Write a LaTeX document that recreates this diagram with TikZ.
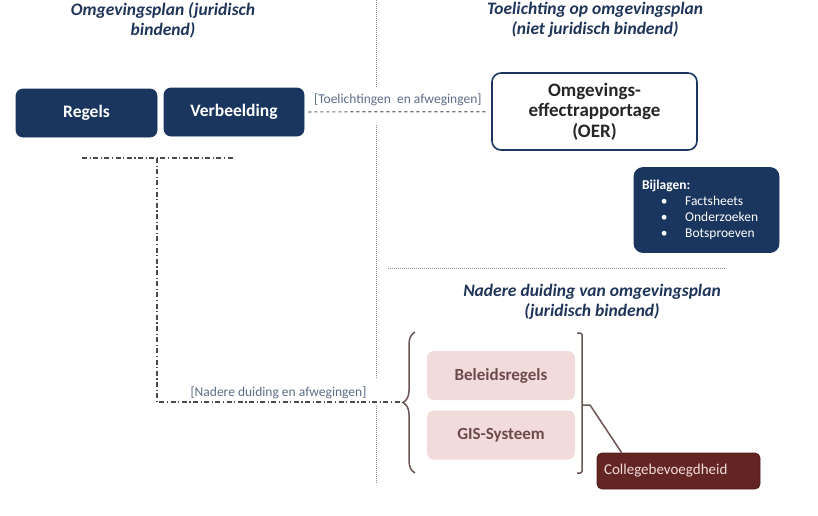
\documentclass[tikz,border=0pt]{standalone}
\usepackage{fontspec}
\setmainfont{Carlito}
\usetikzlibrary{positioning, decorations.pathreplacing}
\definecolor{navy}{HTML}{1A365E}
\definecolor{titleblue}{HTML}{1F3459}
\definecolor{labelgrey}{HTML}{5C6C88}
\definecolor{linegrey}{HTML}{8A8A8A}
\definecolor{dashgrey}{HTML}{4A4A4A}
\definecolor{rosefill}{HTML}{F2DCDB}
\definecolor{rosetext}{HTML}{6E4A4C}
\definecolor{bracegrey}{HTML}{6B5555}
\definecolor{darkmaroon}{HTML}{632523}
\definecolor{palerose}{HTML}{F2DCDB}

\begin{document}
\begin{tikzpicture}[x=1pt, y=-1pt, thick, >=latex,
    title/.style={text=titleblue, align=center, font=\bfseries\itshape\fontsize{17.5}{20}\selectfont},
    navybox/.style={draw=navy, fill=navy, rounded corners=7pt, text=white, minimum height=48pt, font=\bfseries\fontsize{17.5}{20}\selectfont},
    rosebox/.style={fill=rosefill, rounded corners=7pt, text=rosetext, minimum width=148pt, minimum height=49pt, font=\bfseries\fontsize{17}{20}\selectfont},
    linklabel/.style={text=labelgrey, font=\fontsize{13.5}{15}\selectfont, inner sep=2pt},
    divider/.style={draw=linegrey, densely dotted, line width=1pt},
    dashdot/.style={draw=dashgrey, dash pattern=on 5pt off 2.5pt on 1.2pt off 2.5pt, line width=1.4pt}]
    \useasboundingbox (0,0) rectangle (818,515);

    % column titles
    \node (TitlePlan) [title] at (163,20) {Omgevingsplan (juridisch\\bindend)};
    \node (TitleToelichting) [title] at (595,20) {Toelichting op omgevingsplan\\(niet juridisch bindend)};
    \node (TitleDuiding) [title] at (592,302) {Nadere duiding van omgevingsplan\\(juridisch bindend)};

    % dividers
    \draw[divider] (376,0) -- (376,88);
    \draw[divider] (376,125) -- (376,378);
    \draw[divider] (376,406) -- (376,484);
    \draw[divider] (388,268) -- (726,268);

    % plan blocks
    \node (Regels) [navybox, minimum width=141pt] at (86.5,113) {Regels};
    \node (Verbeelding) [navybox, minimum width=140pt] at (234,112) {Verbeelding};

    % toelichting blocks
    \node (OER) [draw=navy, line width=1.6pt, fill=white, rounded corners=9pt, minimum width=205pt, minimum height=77pt, align=center, text=black!85, font=\bfseries\fontsize{19}{20.5}\selectfont] at (594.5,111.5) {Omgevings-\\effectrapportage\\(OER)};
    \node (Bijlagen) [draw=navy, fill=navy, rounded corners=9pt, minimum width=145pt, minimum height=85pt, text width=129pt, align=left, text=white, font=\fontsize{13.5}{16}\selectfont] at (706.5,210)
        {\textbf{Bijlagen:}\\\hspace*{1.4em}\textbullet\hspace{1.3em}Factsheets\\\hspace*{1.4em}\textbullet\hspace{1.3em}Onderzoeken\\\hspace*{1.4em}\textbullet\hspace{1.3em}Botsproeven};

    % nadere duiding blocks
    \node (Beleidsregels) [rosebox] at (501,375.5) {Beleidsregels};
    \node (GIS) [rosebox] at (501,435) {GIS-Systeem};
    \node (College) [draw=darkmaroon!80!black, fill=darkmaroon, rounded corners=5pt, minimum width=163pt, minimum height=36pt, text width=149pt, align=left, text=palerose, font=\fontsize{15}{17}\selectfont] at (678.5,471) {Collegebevoegdheid};

    % braces
    \draw[bracegrey, line width=1.5pt, decorate, decoration={brace, amplitude=12pt}] (415,473) -- (415,332);
    \coordinate (BraceTip) at (400,402);
    \draw[bracegrey, line width=1.5pt, rounded corners=2pt] (577,333) -- (582,333) -- (582,473) -- (577,473);
    \coordinate (BracketTip) at (590,405);
    \draw[bracegrey, line width=1.5pt] (582,405) -- (BracketTip) -- ([xshift=25pt]College.north west);

    % links
    \draw[draw=dashgrey!80, dashed, line width=1.2pt, shorten <=4pt, shorten >=4pt] (Verbeelding) -- (OER) node[linklabel, midway, above, yshift=3pt] {[Toelichtingen\ \ en afwegingen]};
    \coordinate (BarLeft) at (82,158);
    \coordinate (BarRight) at (233,158);
    \coordinate (BarJoin) at (157,158);
    \draw[dashdot] (BarLeft) -- (BarRight);
    \draw[dashdot] (BarJoin) |- (BraceTip) node[linklabel, pos=0.75, above] {[Nadere duiding en afwegingen]};
\end{tikzpicture}
\end{document}
